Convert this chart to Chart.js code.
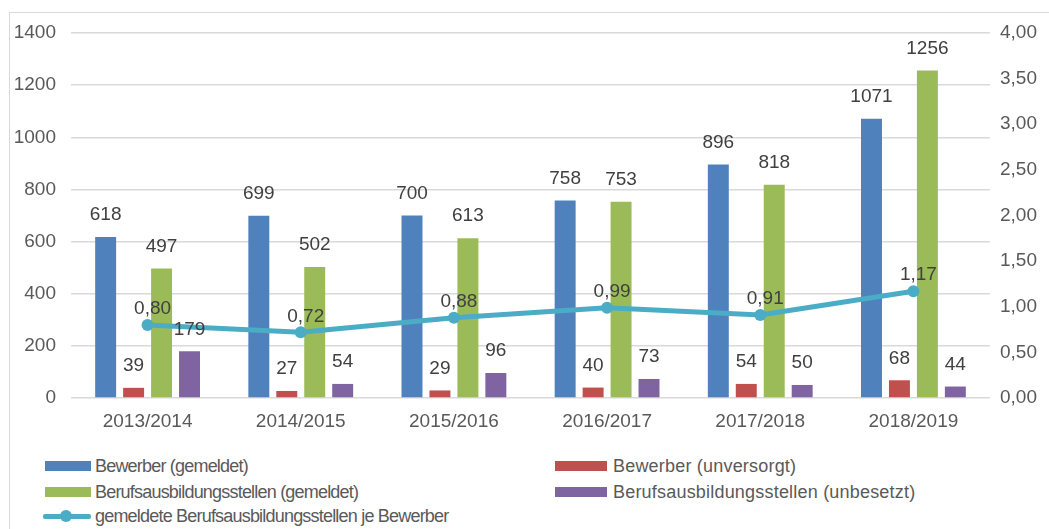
<!DOCTYPE html>
<html>
<head>
<meta charset="utf-8">
<script src="https://cdn.jsdelivr.net/npm/chart.js@4/dist/chart.umd.min.js"></script>
<style>
  html, body { margin: 0; padding: 0; background: #fff; }
  body { width: 1049px; height: 529px; position: relative; overflow: hidden;
         font-family: "Liberation Sans", Arial, sans-serif; }
  #frame { position: absolute; left: 9px; top: 12px; width: 1100px; height: 600px;
           border-left: 1px solid #d9d9d9; border-top: 1px solid #d9d9d9; }
  #wrap { position: absolute; left: 0; top: 0; width: 1049px; height: 438px; }
  .lg { position: absolute; font-size: 18px; letter-spacing: -0.8px; color: #595959; line-height: 20px; white-space: nowrap; }
  .lg.r { letter-spacing: 0.2px; }
  .sw { position: absolute; height: 10px; }
  .ln { position: absolute; height: 5px; background: #4bacc6; border-radius: 2px; }
  .dot { position: absolute; width: 12px; height: 12px; border-radius: 50%; background: #4bacc6; }
</style>
</head>
<body>
<div id="frame"></div>
<div id="wrap"><canvas id="chart"></canvas></div>

<div class="sw" style="left:45px; top:461px; width:46px; background:#4f81bd"></div>
<div class="lg" style="left:95px; top:456px">Bewerber (gemeldet)</div>
<div class="sw" style="left:555px; top:461px; width:52px; background:#c0504d"></div>
<div class="lg r" style="left:613px; top:456px">Bewerber (unversorgt)</div>
<div class="sw" style="left:45px; top:487px; width:46px; background:#9bbb59"></div>
<div class="lg" style="left:95px; top:482px">Berufsausbildungsstellen (gemeldet)</div>
<div class="sw" style="left:555px; top:487px; width:52px; background:#8064a2"></div>
<div class="lg r" style="left:613px; top:482px">Berufsausbildungsstellen (unbesetzt)</div>
<div class="ln" style="left:43px; top:514px; width:48px"></div>
<div class="dot" style="left:60px; top:510px"></div>
<div class="lg" style="left:95px; top:506px">gemeldete Berufsausbildungsstellen je Bewerber</div>

<script>
const years = ["2013/2014", "2014/2015", "2015/2016", "2016/2017", "2017/2018", "2018/2019"];
const bewerberGemeldet = [618, 699, 700, 758, 896, 1071];
const bewerberUnversorgt = [39, 27, 29, 40, 54, 68];
const stellenGemeldet = [497, 502, 613, 753, 818, 1256];
const stellenUnbesetzt = [179, 54, 96, 73, 50, 44];
const stellenJeBewerber = [0.80, 0.72, 0.88, 0.99, 0.91, 1.17];

const leftTicks = { min: 0, max: 1400, step: 200 };
const rightTicks = { min: 0, max: 4, step: 0.5 };

const deNum = (v) => v.toFixed(2).replace(".", ",");

// draws the value labels above bars and line points
const valueLabels = {
  id: "valueLabels",
  afterDatasetsDraw(chart) {
    const ctx = chart.ctx;
    ctx.save();
    ctx.font = "19px 'Liberation Sans', Arial, sans-serif";
    ctx.fillStyle = "#404040";
    ctx.textAlign = "center";
    ctx.textBaseline = "middle";
    chart.data.datasets.forEach((ds, i) => {
      const meta = chart.getDatasetMeta(i);
      meta.data.forEach((el, j) => {
        const v = ds.data[j];
        if (ds.type === "line") {
          ctx.fillText(deNum(v), el.x + 5, el.y - 16);
        } else {
          ctx.fillText(String(v), el.x, el.y - 22);
        }
      });
    });
    ctx.restore();
  },
};

Chart.defaults.font.family = "'Liberation Sans', Arial, sans-serif";
Chart.defaults.font.size = 19;
Chart.defaults.color = "#595959";

const bar = (label, data, color) => ({
  type: "bar",
  label,
  data,
  backgroundColor: color,
  yAxisID: "y",
  order: 1,
  categoryPercentage: 0.73,
  barPercentage: 0.75,
});

new Chart(document.getElementById("chart"), {
  data: {
    labels: years,
    datasets: [
      bar("Bewerber (gemeldet)", bewerberGemeldet, "#4f81bd"),
      bar("Bewerber (unversorgt)", bewerberUnversorgt, "#c0504d"),
      bar("Berufsausbildungsstellen (gemeldet)", stellenGemeldet, "#9bbb59"),
      bar("Berufsausbildungsstellen (unbesetzt)", stellenUnbesetzt, "#8064a2"),
      {
        type: "line",
        label: "gemeldete Berufsausbildungsstellen je Bewerber",
        data: stellenJeBewerber,
        yAxisID: "y1",
        order: 0,
        borderColor: "#4bacc6",
        backgroundColor: "#4bacc6",
        borderWidth: 5,
        pointRadius: 6,
        pointBorderWidth: 0,
        tension: 0,
      },
    ],
  },
  plugins: [valueLabels],
  options: {
    responsive: true,
    maintainAspectRatio: false,
    animation: false,
    layout: { padding: { top: 33, left: 0, right: 0, bottom: 0 } },
    plugins: { legend: { display: false }, tooltip: { enabled: false } },
    scales: {
      x: {
        grid: { display: false },
        border: { display: false },
        ticks: { padding: 4, color: "#595959" },
        afterFit: (s) => { s.height = 40; },
      },
      y: {
        position: "left",
        min: leftTicks.min,
        max: leftTicks.max,
        ticks: { stepSize: leftTicks.step, padding: 15, color: "#595959", callback: (v) => String(v) },
        grid: { color: "#d9d9d9", lineWidth: 1.5, drawTicks: false },
        border: { display: false },
        afterFit: (s) => { s.width = 71; },
      },
      y1: {
        position: "right",
        min: rightTicks.min,
        max: rightTicks.max,
        ticks: { stepSize: rightTicks.step, padding: 10, color: "#595959", callback: (v) => deNum(v) },
        grid: { display: false, drawTicks: false },
        border: { display: false },
        afterFit: (s) => { s.width = 59; },
      },
    },
  },
});
</script>
</body>
</html>
